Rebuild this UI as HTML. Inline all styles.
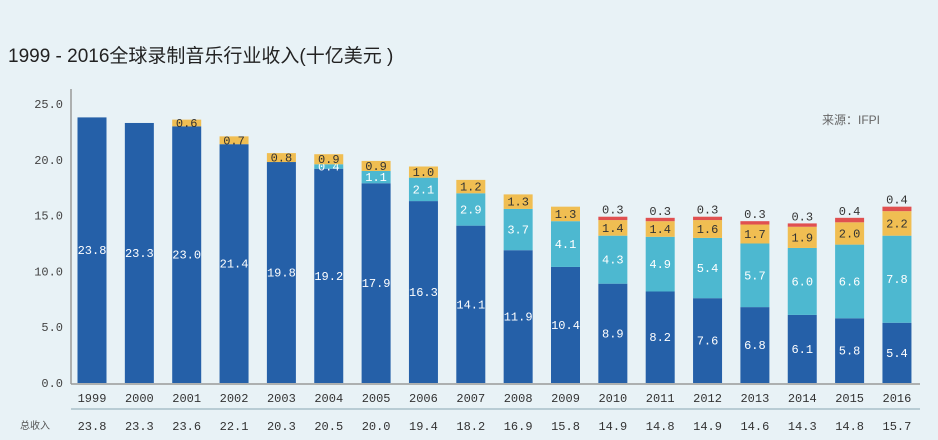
<!DOCTYPE html>
<html><head><meta charset="utf-8"><style>
body{margin:0;background:#e8f2f6;}
svg{display:block;font-family:"Liberation Mono","Noto Sans CJK SC",monospace;}
</style></head><body>
<svg id="c" width="938" height="440" viewBox="0 0 938 440">
<rect width="938" height="440" fill="#e8f2f6"/>
<text x="8" y="62" font-family="Liberation Sans,Noto Sans CJK SC,sans-serif" font-size="19" fill="#222">1999 - 2016全球录制音乐行业收入(十亿美元 )</text>
<text x="822" y="124" font-family="Liberation Sans,Noto Sans CJK SC,sans-serif" font-size="12" fill="#666">来源：IFPI</text>
<line x1="71" y1="89" x2="71" y2="384" stroke="#999" stroke-width="1.5"/>
<line x1="71" y1="384" x2="920" y2="384" stroke="#999" stroke-width="1.5"/>
<line x1="71" y1="409" x2="920" y2="409" stroke="#b8ccd4" stroke-width="2"/>
<text x="20" y="429" font-family="Liberation Sans,Noto Sans CJK SC,sans-serif" font-size="10" fill="#555">总收入</text>
<g id="g"></g>
</svg>
<script>
const years=["1999","2000","2001","2002","2003","2004","2005","2006","2007","2008","2009","2010","2011","2012","2013","2014","2015","2016"];
const physical=[23.8,23.3,23.0,21.4,19.8,19.2,17.9,16.3,14.1,11.9,10.4,8.9,8.2,7.6,6.8,6.1,5.8,5.4];
const digital=[0,0,0,0,0,0.4,1.1,2.1,2.9,3.7,4.1,4.3,4.9,5.4,5.7,6.0,6.6,7.8];
const performance=[0,0,0.6,0.7,0.8,0.9,0.9,1.0,1.2,1.3,1.3,1.4,1.4,1.6,1.7,1.9,2.0,2.2];
const sync=[0,0,0,0,0,0,0,0,0,0,0,0.3,0.3,0.3,0.3,0.3,0.4,0.4];
const totals=["23.8","23.3","23.6","22.1","20.3","20.5","20.0","19.4","18.2","16.9","15.8","14.9","14.8","14.9","14.6","14.3","14.8","15.7"];
const yTicks=[0,5,10,15,20,25];
const NS="http://www.w3.org/2000/svg";
const g=document.getElementById('g');
const y=v=>383-v*11.16;
const x=i=>92+i*47.35;
const bw=29;
function mk(t,a){const e=document.createElementNS(NS,t);for(const k in a)e.setAttribute(k,a[k]);g.appendChild(e);return e;}
yTicks.forEach(v=>{const t=mk('text',{x:63,y:y(v)+4,'text-anchor':'end','font-size':12,fill:'#444'});t.textContent=v.toFixed(1);

});
const series=[[physical,'#2560a8','#fff','physical'],[digital,'#4db8d0','#fff','digital'],[performance,'#f0be52','#333','performance'],[sync,'#e05050','#333','sync']];
years.forEach((yr,i)=>{
 let base=0;
 series.forEach(([arr,col,tc,nm])=>{
  const v=arr[i]; if(!v)return;
  const r=mk('rect',{x:x(i)-bw/2,y:y(base+v),width:bw,height:y(base)-y(base+v),fill:col});
  
  
  const t=mk('text',{x:x(i),'text-anchor':'middle','font-size':12,fill:tc});
  if(nm==='sync'){t.setAttribute('y',y(base+v)-3);t.setAttribute('fill','#333');}
  else t.setAttribute('y',(y(base)+y(base+v))/2+4);
  t.textContent=v.toFixed(1);
  
  
  base+=v;
 });
 const yl=mk('text',{x:x(i),y:402,'text-anchor':'middle','font-size':12,fill:'#333'});yl.textContent=yr;
 
 
 const tl=mk('text',{x:x(i),y:430,'text-anchor':'middle','font-size':12,fill:'#333'});tl.textContent=totals[i];
 
 
});
</script>
</body></html>
